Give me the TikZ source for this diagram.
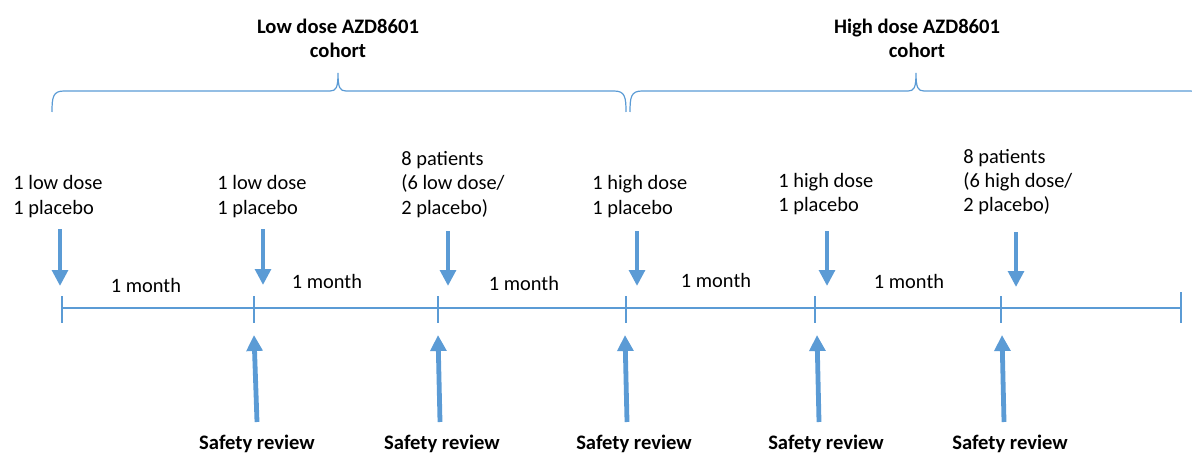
\documentclass[tikz,border=0pt]{standalone}
\usepackage{fontspec}
\setmainfont{Carlito}
\usetikzlibrary{arrows.meta}
\definecolor{tlblue}{RGB}{91,155,213}
\def\cohortbrace(#1:#2:#3){\draw[brace] (#1,112) .. controls (#1,97) and (#1+1,91) .. (#1+12,91) -- (#2-8,91) .. controls (#2-2,91) and (#2,88) .. (#2,73) .. controls (#2,88) and (#2+2,91) .. (#2+8,91) -- (#3-12,91) .. controls (#3-1,91) and (#3,97) .. (#3,112);}

\begin{document}
\begin{tikzpicture}[x=0.5pt, y=-0.5pt,
	every node/.style={font=\fontsize{10.2}{12.2}\selectfont, inner sep=0pt},
	cohort/.style={font=\fontsize{10.3}{12.4}\selectfont\bfseries, align=center, anchor=base},
	dose/.style={align=left, anchor=base west},
	period/.style={anchor=base},
	review/.style={font=\fontsize{10.3}{12.4}\selectfont\bfseries, anchor=base},
	brace/.style={line width=0.6pt, color=tlblue},
	axis/.style={line width=0.6pt, color=tlblue},
	dosearrow/.style={line width=2.4pt, color=tlblue, -{Triangle[width=7.8pt,length=8pt]}}]
			%%%%% START %%%%%
			
			\clip (0, 0) rectangle (1192, 454);
			
			\node[cohort] (lowco) at (338, 58) {Low dose AZD8601\\cohort};
			\node[cohort] (highco) at (917, 58) {High dose AZD8601\\cohort};
			\cohortbrace(52:338:626)
			\cohortbrace(630:916:1202)
			
			\node[dose] (dose1) at (13, 214) {1 low dose\\1 placebo};
			\node[dose] (dose2) at (217, 214) {1 low dose\\1 placebo};
			\node[dose] (dose3) at (401, 214) {8 patients\\(6 low dose/\\2 placebo)};
			\node[dose] (dose4) at (592, 214) {1 high dose\\1 placebo};
			\node[dose] (dose5) at (778, 212) {1 high dose\\1 placebo};
			\node[dose] (dose6) at (963, 212) {8 patients\\(6 high dose/\\2 placebo)};
			
			\coordinate (in1) at (60, 229);  \coordinate (on1) at (60, 286);
			\coordinate (in2) at (263, 229); \coordinate (on2) at (263, 285);
			\coordinate (in3) at (448, 231); \coordinate (on3) at (448, 286);
			\coordinate (in4) at (637, 231); \coordinate (on4) at (637, 286);
			\coordinate (in5) at (827, 231); \coordinate (on5) at (827, 286);
			\coordinate (in6) at (1016, 232); \coordinate (on6) at (1016, 287);
			\draw[dosearrow] (in1) -- (on1);
			\draw[dosearrow] (in2) -- (on2);
			\draw[dosearrow] (in3) -- (on3);
			\draw[dosearrow] (in4) -- (on4);
			\draw[dosearrow] (in5) -- (on5);
			\draw[dosearrow] (in6) -- (on6);
			
			\node[period] (m1) at (146, 292) {1 month};
			\node[period] (m2) at (327, 288) {1 month};
			\node[period] (m3) at (524, 290) {1 month};
			\node[period] (m4) at (716, 287) {1 month};
			\node[period] (m5) at (909, 288) {1 month};
			
			\coordinate (t0) at (62, 308);
			\coordinate (t1) at (254, 308);
			\coordinate (t2) at (438, 308);
			\coordinate (t3) at (626, 308);
			\coordinate (t4) at (815, 308);
			\coordinate (t5) at (1001, 308);
			\coordinate (t6) at (1181, 308);
			\draw[axis] (t0) -- (t6);
			\draw[axis] (62, 296) -- (62, 323);
			\draw[axis] (254, 296) -- (254, 323);
			\draw[axis] (438, 296) -- (438, 323);
			\draw[axis] (626, 296) -- (626, 323);
			\draw[axis] (815, 296) -- (815, 323);
			\draw[axis] (1001, 296) -- (1001, 323);
			\draw[axis] (1181, 292) -- (1181, 323);
			
			\node[review] (rev1) at (257, 449) {Safety review};
			\node[review] (rev2) at (442, 449) {Safety review};
			\node[review] (rev3) at (634, 449) {Safety review};
			\node[review] (rev4) at (826, 449) {Safety review};
			\node[review] (rev5) at (1010, 449) {Safety review};
			
			\coordinate (up1) at (257, 422); \coordinate (at1) at (254, 335);
			\coordinate (up2) at (440, 422); \coordinate (at2) at (438, 335);
			\coordinate (up3) at (627, 422); \coordinate (at3) at (625, 335);
			\coordinate (up4) at (819, 422); \coordinate (at4) at (817, 335);
			\coordinate (up5) at (1004, 422); \coordinate (at5) at (1002, 335);
			\draw[dosearrow] (up1) -- (at1);
			\draw[dosearrow] (up2) -- (at2);
			\draw[dosearrow] (up3) -- (at3);
			\draw[dosearrow] (up4) -- (at4);
			\draw[dosearrow] (up5) -- (at5);
			
			%%%%% END %%%%%
		\end{tikzpicture}
\end{document}
